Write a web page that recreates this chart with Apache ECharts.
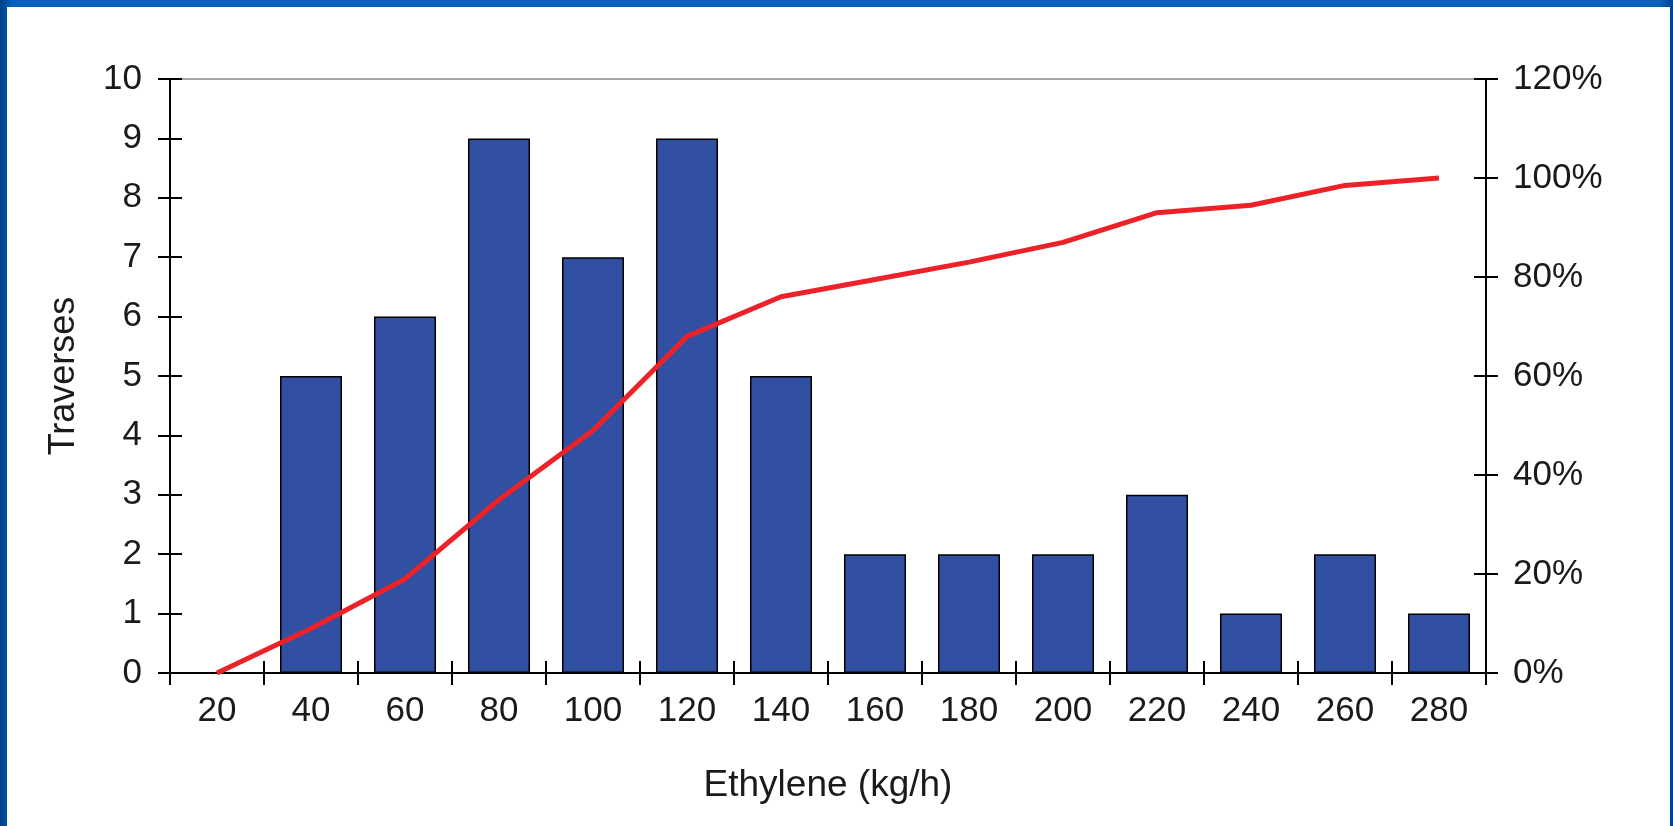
<!DOCTYPE html>
<html>
<head>
<meta charset="utf-8">
<script src="https://cdn.jsdelivr.net/npm/echarts@6/dist/echarts.min.js"></script>
<style>
  html, body { margin: 0; padding: 0; width: 1673px; height: 826px; overflow: hidden;
    background: linear-gradient(90deg, #003f86 0px, #0560BE 12px, #0560BE 1660px, #00418a 1673px); }
  #frame { position: absolute; left: 7px; top: 7px; width: 1663px; height: 819px; background: #ffffff; }
  #chart { width: 1663px; height: 819px; }
</style>
</head>
<body>
<div id="frame"><div id="chart"></div></div>
<script>
const categories = ['20', '40', '60', '80', '100', '120', '140', '160', '180', '200', '220', '240', '260', '280'];
const traverses = [0, 5, 6, 9, 7, 9, 5, 2, 2, 2, 3, 1, 2, 1];
const cumulativePct = [0, 9, 19, 35, 49, 68, 76, 79.5, 83, 87, 93, 94.5, 98.5, 100];

const FONT = "'Liberation Sans', Arial, sans-serif";
const labelStyle = { color: '#1a1a1a', fontSize: 35, fontFamily: FONT };
const axisLine = { show: true, lineStyle: { color: '#000', width: 2 } };
const tickStyle = { color: '#000', width: 2 };

const chart = echarts.init(document.getElementById('chart'), null, { renderer: 'canvas' });
chart.setOption({
  animation: false,
  backgroundColor: '#ffffff',
  grid: { left: 163, right: 184, top: 72, bottom: 153, show: true, borderColor: '#8a8a8a', borderWidth: 1.5, backgroundColor: 'transparent' },
  xAxis: [
    {
      type: 'category', data: categories, position: 'bottom',
      name: 'Ethylene (kg/h)', nameLocation: 'middle', nameGap: 94,
      nameTextStyle: { color: '#1a1a1a', fontSize: 37, fontFamily: FONT },
      axisLine: axisLine,
      axisTick: { show: true, inside: false, length: 12, lineStyle: tickStyle },
      axisLabel: Object.assign({ margin: 21 }, labelStyle),
      splitLine: { show: false }
    },
    {
      type: 'category', data: categories, position: 'bottom',
      axisLine: { show: false },
      axisTick: { show: true, inside: true, length: 12, lineStyle: tickStyle },
      axisLabel: { show: false }, splitLine: { show: false }
    }
  ],
  yAxis: [
    {
      type: 'value', position: 'left', min: 0, max: 10, interval: 1,
      name: 'Traverses', nameLocation: 'middle', nameGap: 88, nameRotate: 90,
      nameTextStyle: { color: '#1a1a1a', fontSize: 36, fontFamily: FONT },
      axisLine: axisLine,
      axisTick: { show: true, inside: false, length: 12, lineStyle: tickStyle },
      axisLabel: Object.assign({ margin: 28 }, labelStyle),
      splitLine: { show: false }
    },
    {
      type: 'value', position: 'right', min: 0, max: 120, interval: 20,
      axisLine: axisLine,
      axisTick: { show: true, inside: false, length: 12, lineStyle: tickStyle },
      axisLabel: Object.assign({ margin: 27, formatter: '{value}%' }, labelStyle),
      splitLine: { show: false }
    },
    {
      type: 'value', position: 'left', min: 0, max: 10, interval: 1,
      axisLine: { show: false },
      axisTick: { show: true, inside: true, length: 12, lineStyle: tickStyle },
      axisLabel: { show: false }, splitLine: { show: false }
    },
    {
      type: 'value', position: 'right', min: 0, max: 120, interval: 20,
      axisLine: { show: false },
      axisTick: { show: true, inside: true, length: 12, lineStyle: tickStyle },
      axisLabel: { show: false }, splitLine: { show: false }
    }
  ],
  series: [
    {
      type: 'bar', data: traverses, xAxisIndex: 0, yAxisIndex: 0,
      barWidth: 62,
      itemStyle: { color: '#3250A2', borderColor: '#000', borderWidth: 1.5 }
    },
    {
      type: 'line', data: cumulativePct, xAxisIndex: 0, yAxisIndex: 1,
      showSymbol: false, symbol: 'none',
      lineStyle: { color: '#EC2228', width: 5 },
      z: 5
    }
  ]
});
</script>
</body>
</html>
